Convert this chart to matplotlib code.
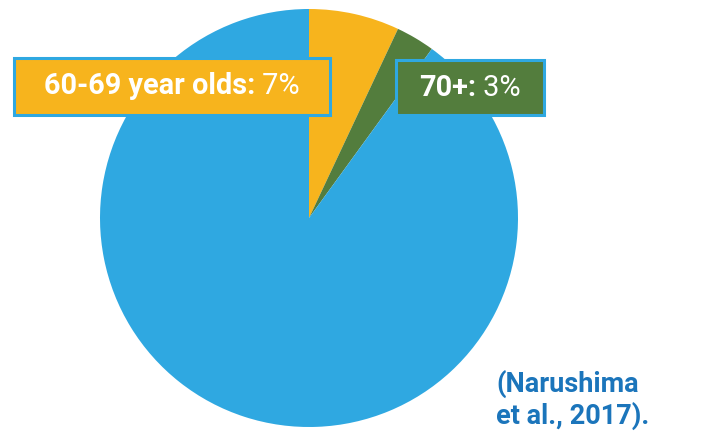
import matplotlib.pyplot as plt
from matplotlib.patches import Rectangle

# data
groups = ['Under 60', '60-69 year olds', '70+']
shares = [90, 7, 3]
colors = ['#2FA8E1', '#F7B41D', '#537D3D']
label_bold = ['60-69 year olds:', '70+:']
label_val = [' 7%', ' 3%']
source = '(Narushima\net al., 2017).'

W, H = 717, 432
fig = plt.figure(figsize=(W / 100, H / 100), dpi=100)
ax = fig.add_axes([0, 0, 1, 1])
ax.set_xlim(0, W)
ax.set_ylim(0, H)
ax.axis('off')

# pie from 12 o'clock going clockwise: yellow, green, then blue
order = [1, 2, 0]
ax.pie([shares[i] for i in order], colors=[colors[i] for i in order],
       startangle=90, counterclock=False, center=(309, H - 218), radius=209,
       wedgeprops=dict(linewidth=0))
ax.set_xlim(0, W)
ax.set_ylim(0, H)
ax.set_aspect('auto')

# label boxes (x0, top, x1, bottom in pixels from top)
boxes = [(14, 58, 330, 115), (396, 60, 544, 115)]
box_fill = [colors[1], colors[2]]
fig.canvas.draw()
r = fig.canvas.get_renderer()
for (x0, y0, x1, y1), fc, b, v in zip(boxes, box_fill, label_bold, label_val):
    ax.add_patch(Rectangle((x0, H - y1), x1 - x0, y1 - y0, facecolor=fc,
                           edgecolor=colors[0], linewidth=2.2, zorder=3))
    t1 = ax.text(0, 0, b, fontsize=20.8, fontweight='bold', color='white',
                 family='Roboto', va='center', zorder=4)
    t2 = ax.text(0, 0, v, fontsize=20.8, color='white',
                 family='Roboto', va='center', zorder=4)
    w1 = t1.get_window_extent(r).width
    w2 = t2.get_window_extent(r).width
    xs = (x0 + x1) / 2 - (w1 + w2) / 2
    yc = H - (y0 + y1) / 2
    t1.set_position((xs, yc))
    t2.set_position((xs + w1, yc))

ax.text(496, H - 370, source, fontsize=19.5, fontweight='bold', color='#1B75BB',
        family='Roboto', va='top', ha='left', linespacing=1.15, zorder=4)

fig.savefig('out.png', dpi=100)
